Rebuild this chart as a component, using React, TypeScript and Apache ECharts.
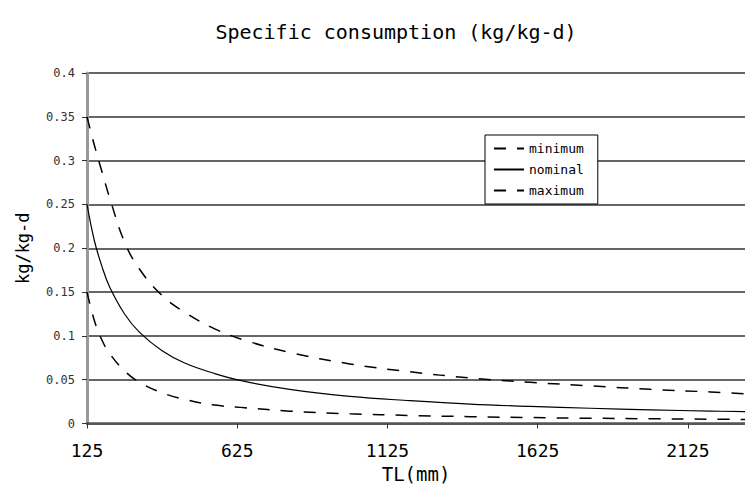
import React, { useEffect, useRef } from "react";
import * as echarts from "echarts";

const titleText = "Specific consumption (kg/kg-d)";
const xName = "TL(mm)";
const yName = "kg/kg-d";
const xTickValues = [125, 625, 1125, 1625, 2125];

const tl = [125, 150, 175, 200, 250, 300, 375, 450, 550, 650, 800, 1000, 1200, 1400, 1600, 1800, 2000, 2200, 2315];
const minimum = [0.15, 0.117, 0.095, 0.08, 0.06, 0.047, 0.035, 0.0276, 0.021, 0.018, 0.0141, 0.011, 0.0092, 0.0078, 0.0068, 0.006, 0.0054, 0.0049, 0.0046];
const nominal = [0.25, 0.208, 0.179, 0.156, 0.125, 0.104, 0.083, 0.069, 0.057, 0.048, 0.039, 0.031, 0.026, 0.022, 0.0195, 0.0174, 0.0156, 0.0142, 0.0135];
const maximum = [0.35, 0.317, 0.287, 0.258, 0.207, 0.176, 0.146, 0.127, 0.108, 0.095, 0.081, 0.068, 0.059, 0.052, 0.047, 0.043, 0.039, 0.036, 0.034];

const FONT = "DejaVu Sans Mono";

export default function App() {
  const ref = useRef<HTMLDivElement>(null);
  useEffect(() => {
    if (!ref.current) return;
    const chart = echarts.init(ref.current, undefined, { renderer: "svg" });
    const pairs = (ys: number[]) => tl.map((x, i) => [x, ys[i]]);
    chart.setOption({
      animation: false,
      backgroundColor: "#ffffff",
      title: {
        text: titleText,
        left: 391,
        textAlign: "center",
        top: 17,
        textStyle: { fontFamily: FONT, fontSize: 20, fontWeight: "normal", color: "#000" },
      },
      legend: {
        data: ["minimum", "nominal", "maximum"],
        orient: "vertical",
        left: 485,
        top: 135,
        padding: [7, 14, 7, 8],
        itemGap: 8,
        itemWidth: 30,
        itemHeight: 12,
        itemStyle: { opacity: 0 },
        backgroundColor: "#fff",
        borderColor: "#000",
        borderWidth: 1,
        borderRadius: 0,
        textStyle: { fontFamily: FONT, fontSize: 13, color: "#000" },
      },
      grid: { left: 87, right: 0, top: 73, bottom: 63.5, containLabel: false, outerBoundsMode: "none" },
      xAxis: {
        type: "value",
        min: 125,
        max: 2315,
        name: xName,
        nameLocation: "middle",
        nameGap: 41,
        nameTextStyle: { fontFamily: FONT, fontSize: 19, color: "#000" },
        axisLine: { show: true, onZero: false, lineStyle: { color: "#555", width: 2.5 } },
        axisTick: { show: true, customValues: xTickValues, length: 5, inside: false, lineStyle: { color: "#333" } },
        axisLabel: {
          customValues: xTickValues,
          formatter: (v: number) => String(v),
          margin: 18,
          fontFamily: FONT,
          fontSize: 18,
          color: "#000",
        },
        splitLine: { show: false },
      },
      yAxis: {
        type: "value",
        min: 0,
        max: 0.4,
        interval: 0.05,
        name: yName,
        nameLocation: "middle",
        nameGap: 56,
        nameTextStyle: { fontFamily: FONT, fontSize: 17, color: "#000" },
        axisLine: { show: true, lineStyle: { color: "#999", width: 3 } },
        axisTick: { show: true, length: 5, lineStyle: { color: "#333" } },
        axisLabel: { margin: 12, fontFamily: FONT, fontSize: 12, color: "#333" },
        splitLine: { show: true, lineStyle: { color: "#333", width: 1.5 } },
      },
      series: [
        {
          name: "minimum",
          type: "line",
          data: pairs(minimum),
          smooth: 0.4,
          symbol: "none",
          lineStyle: { color: "#000", width: 1.5, type: [12, 11] },
          itemStyle: { color: "#000" },
        },
        {
          name: "nominal",
          type: "line",
          data: pairs(nominal),
          smooth: 0.4,
          symbol: "none",
          lineStyle: { color: "#000", width: 1.2, type: "solid" },
          itemStyle: { color: "#000" },
        },
        {
          name: "maximum",
          type: "line",
          data: pairs(maximum),
          smooth: 0.4,
          symbol: "none",
          lineStyle: { color: "#000", width: 1.5, type: [12, 11] },
          itemStyle: { color: "#000" },
        },
      ],
    });
    return () => chart.dispose();
  }, []);
  return <div ref={ref} style={{ position: "fixed", left: 0, top: 0, width: 745, height: 487 }} />;
}
